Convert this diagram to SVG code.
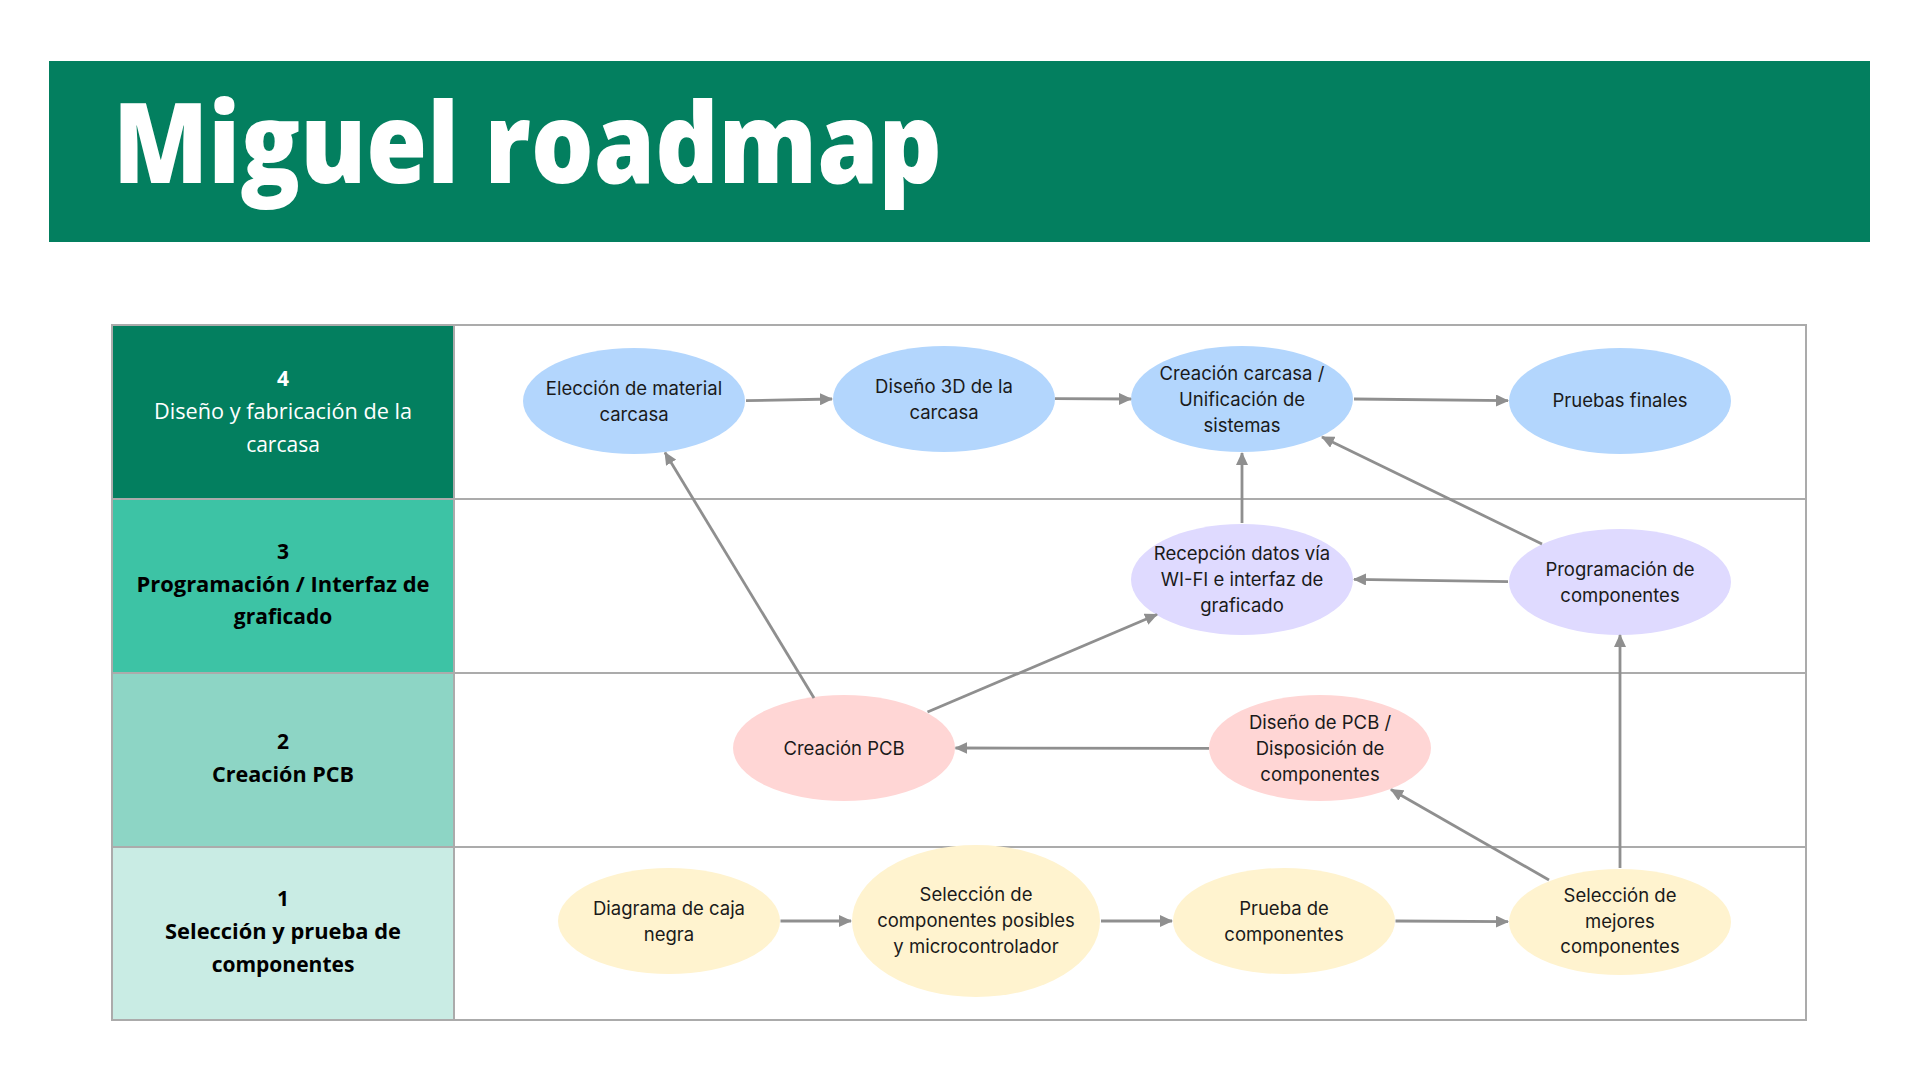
<svg xmlns="http://www.w3.org/2000/svg" width="1920" height="1080" viewBox="0 0 1920 1080">
<defs>
<marker id="arr" markerUnits="userSpaceOnUse" markerWidth="13" markerHeight="12" refX="12" refY="6" orient="auto">
<path d="M0,0 L13,6 L0,12 z" fill="#8f8f8f"/>
</marker>
<style>
.title{font-family:"Open Sans","Liberation Sans",sans-serif;font-weight:800;font-size:112px;fill:#ffffff}
.lab{font-family:"Open Sans","Liberation Sans",sans-serif;font-size:21px;text-anchor:middle}
.b{font-weight:700}
.w{fill:#ffffff}
.k{fill:#000000}
.grid{fill:none;stroke:#ababab;stroke-width:2}
.nt{font-family:Inter,"Liberation Sans",sans-serif;font-size:18.5px;fill:#1a1a1a;text-anchor:middle}
.blue{fill:#b3d6fd}
.purple{fill:#dfdaff}
.pink{fill:#ffd6d5}
.yellow{fill:#fff3cf}
.con{fill:none;stroke:#8f8f8f;stroke-width:2.8;marker-end:url(#arr)}
</style>
</defs>
<rect width="1920" height="1080" fill="#ffffff"/>
<g id="banner">
<rect x="49" y="61" width="1821" height="181" fill="#037f5f"/>
<text class="title" x="113" y="183" textLength="829" lengthAdjust="spacingAndGlyphs">Miguel roadmap</text>
</g>
<g id="lanes">
<rect x="112" y="325" width="342" height="174" fill="#037f5f"/>
<rect x="112" y="499" width="342" height="174" fill="#3dc3a5"/>
<rect x="112" y="673" width="342" height="174" fill="#8dd5c5"/>
<rect x="112" y="847" width="342" height="173" fill="#c9ece4"/>
<rect class="grid" x="112" y="325" width="1694" height="695"/>
<line class="grid" x1="112" y1="499" x2="1806" y2="499"/>
<line class="grid" x1="112" y1="673" x2="1806" y2="673"/>
<line class="grid" x1="112" y1="847" x2="1806" y2="847"/>
<line class="grid" x1="454" y1="325" x2="454" y2="1020"/>
<text class="lab b w" x="283" y="386">4</text>
<text class="lab w" x="283" y="419" textLength="258" lengthAdjust="spacingAndGlyphs">Diseño y fabricación de la</text>
<text class="lab w" x="283" y="452">carcasa</text>
<text class="lab b k" x="283" y="559">3</text>
<text class="lab b k" x="283" y="592" textLength="293" lengthAdjust="spacingAndGlyphs">Programación / Interfaz de</text>
<text class="lab b k" x="283" y="624">graficado</text>
<text class="lab b k" x="283" y="749">2</text>
<text class="lab b k" x="283" y="782" textLength="142" lengthAdjust="spacingAndGlyphs">Creación PCB</text>
<text class="lab b k" x="283" y="906">1</text>
<text class="lab b k" x="283" y="939" textLength="236" lengthAdjust="spacingAndGlyphs">Selección y prueba de</text>
<text class="lab b k" x="283" y="972">componentes</text>
</g>
<g id="n-eleccion"><ellipse class="blue" cx="634" cy="401" rx="111" ry="53"/><text class="nt" x="634" y="395">Elección de material</text><text class="nt" x="634" y="421">carcasa</text></g>
<g id="n-diseno3d"><ellipse class="blue" cx="944" cy="399" rx="111" ry="53"/><text class="nt" x="944" y="393">Diseño 3D de la</text><text class="nt" x="944" y="419">carcasa</text></g>
<g id="n-creacion-carcasa"><ellipse class="blue" cx="1242" cy="399" rx="111" ry="53"/><text class="nt" x="1242" y="380">Creación carcasa /</text><text class="nt" x="1242" y="406">Unificación de</text><text class="nt" x="1242" y="432">sistemas</text></g>
<g id="n-pruebas-finales"><ellipse class="blue" cx="1620" cy="401" rx="111" ry="53"/><text class="nt" x="1620" y="407">Pruebas finales</text></g>
<g id="n-recepcion"><ellipse class="purple" cx="1242" cy="579.5" rx="111" ry="55.5"/><text class="nt" x="1242" y="560">Recepción datos vía</text><text class="nt" x="1242" y="586">WI-FI e interfaz de</text><text class="nt" x="1242" y="612">graficado</text></g>
<g id="n-programacion"><ellipse class="purple" cx="1620" cy="582" rx="111" ry="53"/><text class="nt" x="1620" y="576">Programación de</text><text class="nt" x="1620" y="602">componentes</text></g>
<g id="n-creacion-pcb"><ellipse class="pink" cx="844" cy="748" rx="111" ry="53"/><text class="nt" x="844" y="755">Creación PCB</text></g>
<g id="n-diseno-pcb"><ellipse class="pink" cx="1320" cy="748" rx="111" ry="53"/><text class="nt" x="1320" y="729">Diseño de PCB /</text><text class="nt" x="1320" y="755">Disposición de</text><text class="nt" x="1320" y="781">componentes</text></g>
<g id="n-diagrama"><ellipse class="yellow" cx="669" cy="921" rx="111" ry="53"/><text class="nt" x="669" y="915">Diagrama de caja</text><text class="nt" x="669" y="941">negra</text></g>
<g id="n-seleccion-posibles"><ellipse class="yellow" cx="976" cy="921" rx="124" ry="76"/><text class="nt" x="976" y="901">Selección de</text><text class="nt" x="976" y="927">componentes posibles</text><text class="nt" x="976" y="953">y microcontrolador</text></g>
<g id="n-prueba"><ellipse class="yellow" cx="1284" cy="921" rx="111" ry="53"/><text class="nt" x="1284" y="915">Prueba de</text><text class="nt" x="1284" y="941">componentes</text></g>
<g id="n-seleccion-mejores"><ellipse class="yellow" cx="1620" cy="922" rx="111" ry="53"/><text class="nt" x="1620" y="902">Selección de</text><text class="nt" x="1620" y="928">mejores</text><text class="nt" x="1620" y="953">componentes</text></g>
<g id="connectors">
<line class="con" x1="746" y1="400.7" x2="832" y2="399"/>
<line class="con" x1="1055" y1="398.7" x2="1131" y2="399"/>
<line class="con" x1="1354" y1="399" x2="1508" y2="400.7"/>
<line class="con" x1="1242" y1="523" x2="1242" y2="453"/>
<line class="con" x1="1542" y1="544" x2="1322" y2="437"/>
<line class="con" x1="1508" y1="581.7" x2="1354" y2="579.3"/>
<line class="con" x1="814" y1="698" x2="665" y2="452.5"/>
<line class="con" x1="927.5" y1="712" x2="1157" y2="614.5"/>
<line class="con" x1="1209" y1="748.3" x2="955.5" y2="748"/>
<line class="con" x1="1549" y1="880" x2="1391" y2="789.5"/>
<line class="con" x1="1620" y1="868" x2="1620" y2="635"/>
<line class="con" x1="780.5" y1="921" x2="851" y2="921"/>
<line class="con" x1="1101" y1="921" x2="1172" y2="921"/>
<line class="con" x1="1395.5" y1="921" x2="1508" y2="921.7"/>
</g>
</svg>
